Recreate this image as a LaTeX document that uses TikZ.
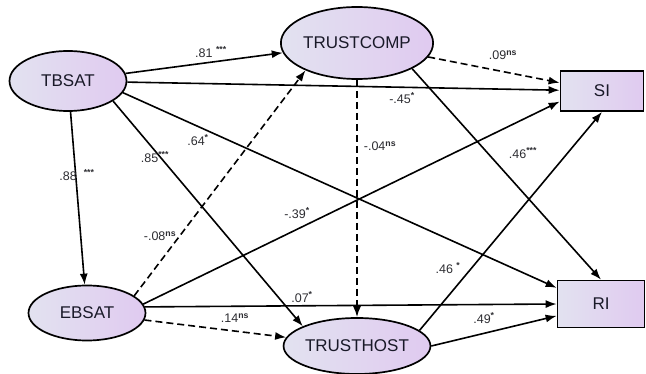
\documentclass[tikz,border=0pt]{standalone}
\usepackage{fontspec}
\setmainfont{Liberation Sans}
\usetikzlibrary{arrows.meta,shapes.geometric}

\definecolor{fillL}{RGB}{226,226,240}
\definecolor{fillR}{RGB}{224,202,240}
\definecolor{ink}{RGB}{25,25,40}
\definecolor{labgrey}{RGB}{45,45,50}

\newcommand{\sig}[1]{\textsuperscript{\bfseries #1}}

\tikzset{
  latent/.style={ellipse, draw, line width=1.7pt, left color=fillL, right color=fillR,
    inner sep=0pt, text=ink, font=\fontsize{17}{20}\selectfont},
  observed/.style={rectangle, draw, line width=1.7pt, left color=fillL, right color=fillR,
    inner sep=0pt, text=ink, font=\fontsize{17}{20}\selectfont},
  coef/.style={inner sep=1pt, text=labgrey, font=\fontsize{12.5}{14}\selectfont},
  nsig/.style={dash pattern=on 7pt off 4pt}
}

\begin{document}
\begin{tikzpicture}[x=1pt, y=-1pt, line width=1.6pt, >={Latex[length=11pt, width=8pt]}]
  \useasboundingbox (0,0) rectangle (646,374);
  % constructs
  \node[latent, minimum width=117pt, minimum height=60pt] (TBSAT) at (68,81) {TBSAT};
  \node[latent, minimum width=117pt, minimum height=55pt] (EBSAT) at (87,313) {EBSAT};
  \node[latent, minimum width=132pt, minimum height=72pt] (TRUSTCOMP) at (357,43) {TRUSTCOMP};
  \node[latent, minimum width=127pt, minimum height=56pt] (TRUSTHOST) at (357,346) {TRUSTHOST};
  \node[observed, minimum width=83pt, minimum height=40pt] (SI) at (602,91) {SI};
  \node[observed, minimum width=87pt, minimum height=47pt] (RI) at (601,304) {RI};

  % paths
  \draw[->] (TBSAT) -- (TRUSTCOMP);
  \draw[->] (TBSAT) -- (SI);
  \draw[->] (TBSAT.-12) -- (RI.160);
  \draw[->] (TBSAT.-24) -- (TRUSTHOST.160);
  \draw[->] (TBSAT) -- (EBSAT);
  \draw[->, nsig] (TRUSTCOMP) -- (SI);
  \draw[->, nsig] (TRUSTCOMP) -- (TRUSTHOST);
  \draw[->] (TRUSTCOMP.-25) -- (RI.north);
  \draw[->, nsig] (EBSAT.20) -- (TRUSTCOMP.-152);
  \draw[->] (EBSAT.9) -- (SI.194);
  \draw[->] (EBSAT.6) -- (RI.west);
  \draw[->, nsig] (EBSAT) -- (TRUSTHOST);
  \draw[->] (TRUSTHOST.14) -- (SI.south);
  \draw[->] (TRUSTHOST.east) -- (RI.-165);

  % coefficients
  \node[coef] (c81) at (211,52) {.81 \sig{***}};
  \node[coef] (c45) at (402,98) {-.45\sig{*}};
  \node[coef] (c64) at (198,140) {.64\sig{*}};
  \node[coef] (c85) at (155,157) {.85\sig{***}};
  \node[coef] (c88) at (77,175) {.88\hspace{7pt}\sig{***}};
  \node[coef] (c09) at (503,55) {.09\sig{ns}};
  \node[coef] (c04) at (380,146) {-.04\sig{ns}};
  \node[coef] (c46a) at (523,153) {.46\sig{***}};
  \node[coef] (c08) at (160,236) {-.08\sig{ns}};
  \node[coef] (c39) at (297,213) {-.39\sig{*}};
  \node[coef] (c07) at (302,297) {.07\sig{*}};
  \node[coef] (c14) at (235,318) {.14\sig{ns}};
  \node[coef] (c46b) at (448,268) {.46 \sig{*}};
  \node[coef] (c49) at (484,318) {.49\sig{*}};
\end{tikzpicture}
\end{document}
